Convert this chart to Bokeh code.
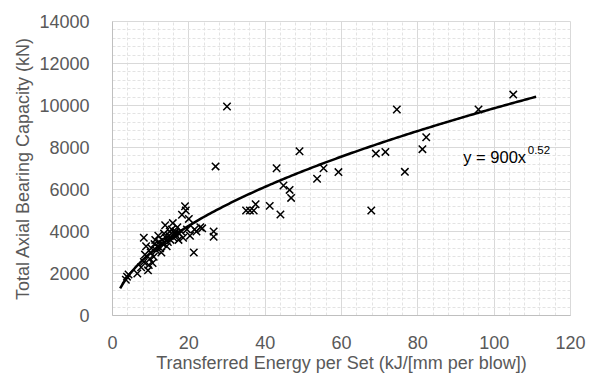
import numpy as np
from bokeh.plotting import figure
from bokeh.models import SingleIntervalTicker, Label, Range1d
from bokeh.embed import file_html
from bokeh.resources import INLINE

# Data
energy = [3.5, 3.8, 4.2, 6.5, 7.5, 8.2, 8.5, 8.2, 8.8, 9.3, 9.5, 9.8, 10.0, 10.2, 10.5,
          10.8, 11.0, 11.2, 11.5, 11.8, 12.0, 12.2, 12.5, 12.8, 13.0, 13.2, 13.5, 13.8,
          14.0, 14.2, 14.5, 14.8, 15.0, 15.2, 15.5, 15.8, 16.0, 16.3, 16.5, 16.8, 17.0,
          17.3, 17.5, 18.0, 18.2, 18.5, 19.0, 19.2, 19.5, 20.0, 20.3, 21.3, 21.5, 22.0,
          23.0, 23.5,
          26.5, 26.5, 27.0, 30.0, 35.0, 36.0, 37.0, 37.5, 41.2, 43.0, 44.0, 44.8, 46.4,
          46.8, 49.0, 53.6, 55.3, 59.2, 67.8, 69.0, 71.5, 74.5, 76.6, 81.2, 82.2, 95.9,
          105.0]
capacity = [1700, 1850, 1950, 2000, 2300, 2550, 2900, 3700, 3300, 2150, 2400, 2700, 3000,
            3200, 2500, 2800, 3400, 3600, 3100, 3300, 3800, 3500, 3200, 3000, 3600, 3400,
            3900, 4300, 3700, 3300, 3500, 3800, 4000, 3600, 4100, 4400, 3700, 3900, 4000,
            3800, 4200, 3600, 3900, 4000, 4800, 3700, 5200, 5000, 4100, 4600, 3800, 3000,
            4100, 4000, 4200, 4150,
            4000, 3750, 7100, 9950, 5000, 5000, 5000, 5300, 5220, 7010, 4810, 6190, 5980,
            5600, 7820, 6510, 7010, 6830, 5000, 7710, 7790, 9810, 6840, 7920, 8490, 9810,
            10520]

# Power trendline y = A * x^B, as labelled on the chart
TREND_A = 900
TREND_B = 0.52
trend_x_start, trend_x_end = 2.0, 111.0

x_title = "Transferred Energy per Set (kJ/[mm per blow])"
y_title = "Total Axial Bearing Capacity (kN)"
x_ticks_interval = 20
y_ticks_interval = 2000

GRAY_TEXT = "#595959"
FONT = "Liberation Sans"

p = figure(width=589, height=379, output_backend="svg", toolbar_location=None,
           x_range=Range1d(0, 120), y_range=Range1d(0, 14000),
           min_border_left=112, min_border_right=19, min_border_top=21, min_border_bottom=64)

p.background_fill_color = "white"
p.border_fill_color = "white"
p.outline_line_color = "#d9d9d9"

p.xaxis.ticker = SingleIntervalTicker(interval=x_ticks_interval, num_minor_ticks=5)
p.yaxis.ticker = SingleIntervalTicker(interval=y_ticks_interval, num_minor_ticks=5)

for ax in (p.xaxis, p.yaxis):
    ax.major_tick_line_color = None
    ax.minor_tick_line_color = None
    ax.axis_line_color = "#bfbfbf"
    ax.major_label_text_font = FONT
    ax.major_label_text_font_size = "18px"
    ax.major_label_text_color = GRAY_TEXT
    ax.axis_label_text_font = FONT
    ax.axis_label_text_font_size = "18px"
    ax.axis_label_text_color = GRAY_TEXT
    ax.axis_label_text_font_style = "normal"

p.xaxis.axis_label = x_title
p.yaxis.axis_label = y_title
p.xaxis.major_label_standoff = 14
p.xaxis.axis_label_standoff = 1
p.yaxis.major_label_standoff = 17
p.yaxis.axis_label_standoff = 3

p.xgrid.grid_line_color = "#d9d9d9"
p.ygrid.grid_line_color = "#d9d9d9"
p.xgrid.minor_grid_line_color = "#e3e3e3"
p.ygrid.minor_grid_line_color = "#e3e3e3"
p.xgrid.minor_grid_line_dash = "3 2"
p.ygrid.minor_grid_line_dash = "3 2"

tx = np.linspace(trend_x_start, trend_x_end, 200)
ty = TREND_A * tx ** TREND_B
p.line(tx, ty, line_color="black", line_width=2.5)

p.scatter(energy, capacity, marker="x", size=10.5, line_color="black", line_width=1.5)

p.add_layout(Label(x=91.9, y=7571, text="y = 900x", text_font=FONT, text_font_size="16.5px",
                   text_color="black", text_baseline="alphabetic"))
p.add_layout(Label(x=108.8, y=7871, text="0.52", text_font=FONT, text_font_size="11.5px",
                   text_color="black", text_baseline="alphabetic"))

open("out.html", "w").write(file_html(p, INLINE))
